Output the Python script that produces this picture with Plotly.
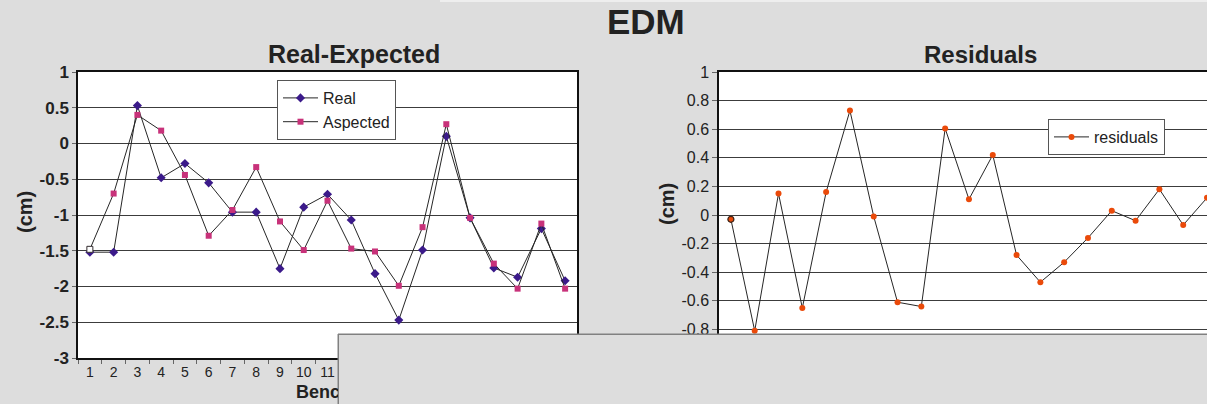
import plotly.graph_objects as go

W, H = 1207, 404

# ---- data ----
benchmarks = [str(i) for i in range(1, 22)]
real = [-1.52, -1.52, 0.53, -0.48, -0.28, -0.55, -0.96, -0.96, -1.75, -0.89, -0.71,
        -1.07, -1.82, -2.47, -1.49, 0.10, -1.04, -1.74, -1.87, -1.19, -1.92]
aspected = [-1.48, -0.70, 0.40, 0.18, -0.44, -1.29, -0.93, -0.33, -1.09, -1.49, -0.80,
            -1.47, -1.51, -1.99, -1.17, 0.27, -1.04, -1.68, -2.03, -1.12, -2.03]
residuals = [-0.03, -0.81, 0.15, -0.65, 0.16, 0.73, -0.01, -0.61, -0.64, 0.605, 0.11,
             0.42, -0.28, -0.47, -0.33, -0.16, 0.03, -0.04, 0.18, -0.07, 0.12]

# tick labels (plain hyphen minus sign)
left_ticks = [1, 0.5, 0, -0.5, -1, -1.5, -2, -2.5, -3]
left_tick_text = ["1", "0.5", "0", "-0.5", "-1", "-1.5", "-2", "-2.5", "-3"]
right_ticks = [1, 0.8, 0.6, 0.4, 0.2, 0, -0.2, -0.4, -0.6, -0.8, -1]
right_tick_text = ["1", "0.8", "0.6", "0.4", "0.2", "0", "-0.2", "-0.4", "-0.6", "-0.8", "-1"]

BG = "#dddddd"
FONT = "Liberation Sans, Arial, sans-serif"
TXT = "#222222"
PURPLE = "#3b1a8a"
MAGENTA = "#c8327a"
ORANGE = "#ea4a0a"
LINE = "#262626"
GRID = "#3c3c3c"

# panel geometry in page pixels
L_X0, L_X1 = 78, 577
R_X0 = 719
P_TOP, P_BOT = 72, 358


def px(x):
    return x / W


def py(y):
    return 1 - y / H


fig = go.Figure()

fig.add_trace(go.Scatter(
    x=benchmarks, y=real, name="Real", mode="lines+markers",
    line=dict(color=LINE, width=1),
    marker=dict(symbol="diamond", size=7, color=PURPLE),
    xaxis="x", yaxis="y", legend="legend",
))
fig.add_trace(go.Scatter(
    x=benchmarks, y=aspected, name="Aspected", mode="lines+markers",
    line=dict(color=LINE, width=1),
    marker=dict(symbol="square", size=6, color=MAGENTA),
    xaxis="x", yaxis="y", legend="legend",
))
# first "Aspected" point is drawn hollow
fig.add_trace(go.Scatter(
    x=benchmarks[:1], y=aspected[:1], mode="markers", showlegend=False,
    marker=dict(symbol="square", size=6, color="white",
                line=dict(color="#333333", width=1)),
    hoverinfo="skip", xaxis="x", yaxis="y",
))
fig.add_trace(go.Scatter(
    x=benchmarks, y=residuals, name="residuals", mode="lines+markers",
    line=dict(color=LINE, width=1),
    marker=dict(symbol="circle", size=6, color=ORANGE),
    xaxis="x2", yaxis="y2", legend="legend2",
))
# first residual point has a dark rim
fig.add_trace(go.Scatter(
    x=benchmarks[:1], y=residuals[:1], mode="markers", showlegend=False,
    marker=dict(symbol="circle", size=6, color=ORANGE,
                line=dict(color="#3a2418", width=1.2)),
    hoverinfo="skip", xaxis="x2", yaxis="y2",
))

cat_axis = dict(
    type="category", tickson="boundaries", ticks="outside", ticklen=4,
    tickcolor="#666666", showgrid=False, showline=True, linecolor="#111111",
    linewidth=1.5, mirror=True, zeroline=False, tickangle=0, automargin=False,
    tickfont=dict(family=FONT, size=14, color=TXT),
    fixedrange=True,
)

fig.update_layout(
    template="none",
    width=W, height=H, autosize=False,
    margin=dict(l=0, r=0, t=0, b=0, pad=0),
    paper_bgcolor=BG, plot_bgcolor="white",
    showlegend=True,
    xaxis=dict(cat_axis, domain=[px(L_X0), px(L_X1)], range=[-0.5, 20.5], anchor="y"),
    yaxis=dict(
        domain=[py(P_BOT), py(P_TOP)], range=[-3, 1], anchor="x",
        tickmode="array", tickvals=left_ticks, ticktext=left_tick_text,
        ticks="outside", ticklen=4, tickcolor="#666666", automargin=False,
        showgrid=True, gridcolor=GRID, gridwidth=1, zeroline=False,
        showline=True, linecolor="#111111", linewidth=1.5, mirror=True,
        tickfont=dict(family=FONT, size=17, color=TXT, weight="bold"),
        fixedrange=True,
    ),
    xaxis2=dict(cat_axis, domain=[px(R_X0), 1.0], range=[-0.5, 20.0], anchor="y2",
                showticklabels=False),
    yaxis2=dict(
        domain=[py(P_BOT), py(P_TOP)], range=[-1, 1], anchor="x2",
        tickmode="array", tickvals=right_ticks, ticktext=right_tick_text,
        ticks="outside", ticklen=5, tickcolor="#666666", automargin=False,
        showgrid=True, gridcolor=GRID, gridwidth=1, zeroline=False,
        showline=True, linecolor="#111111", linewidth=1.5, mirror=True,
        tickfont=dict(family=FONT, size=16, color=TXT),
        fixedrange=True,
    ),
    legend=dict(
        x=px(277), y=py(80), xanchor="left", yanchor="top",
        bgcolor="white", bordercolor="#555555", borderwidth=1, itemwidth=35,
        font=dict(family=FONT, size=16, color=TXT), tracegroupgap=0,
    ),
    legend2=dict(
        x=px(1048), y=py(119), xanchor="left", yanchor="top",
        bgcolor="white", bordercolor="#555555", borderwidth=1, itemwidth=35,
        font=dict(family=FONT, size=16, color=TXT),
    ),
)


# titles
def label(x, y, text, size, angle=0, xanchor="center"):
    fig.add_annotation(x=px(x), y=py(y), xref="paper", yref="paper", text=text,
                       xanchor=xanchor, yanchor="middle", textangle=angle,
                       showarrow=False,
                       font=dict(family=FONT, size=size, color=TXT, weight="bold"))


label(646, 21, "EDM", 35)
label(354, 54, "Real-Expected", 25)
label(980, 54, "Residuals", 24)
label(25, 212, "(cm)", 20, -90)
label(667, 204, "(cm)", 20, -90)
label(294, 392, "Benchmark", 18, xanchor="left")

# light strip along the top edge
fig.add_shape(type="rect", xref="paper", yref="paper",
              x0=px(440), x1=1.01, y0=py(2), y1=1.01,
              fillcolor="#eeeeee", line=dict(width=0), layer="above")
# grey panel lying over the lower part of the page: a shape hides the plot
# content, and an empty boxed annotation on top hides the text layer as well
fig.add_shape(type="rect", xref="paper", yref="paper",
              x0=px(338), x1=1.02, y0=-0.05, y1=py(334),
              fillcolor=BG, line=dict(color="#808080", width=1), layer="above")
fig.add_annotation(x=px(338), y=py(334), xref="paper", yref="paper",
                   xanchor="left", yanchor="top", text=" ", showarrow=False,
                   width=W - 338 + 20, height=H - 334 + 20, borderpad=0,
                   bgcolor=BG, bordercolor="#808080", borderwidth=1)

fig.write_html("out.html")
